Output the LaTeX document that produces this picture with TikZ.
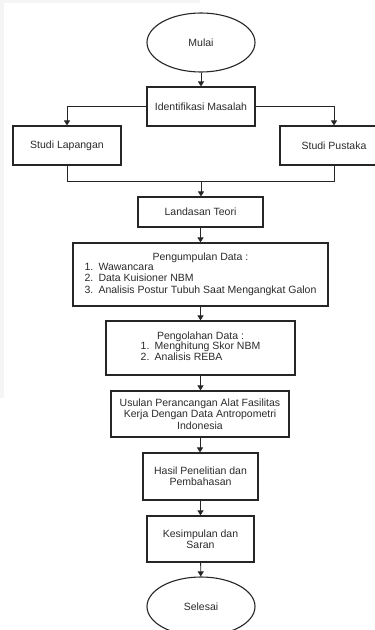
\documentclass[tikz,border=0pt]{standalone}
\usepackage{fontspec}
\setmainfont{Liberation Sans}
\usetikzlibrary{arrows.meta, shapes.geometric}
\definecolor{fcline}{HTML}{262626}
\definecolor{fctext}{HTML}{2B2B2B}
\definecolor{fcshade}{HTML}{F5F5F5}
\newcommand{\itm}[1]{\makebox[14pt][l]{#1.}}

\begin{document}
\begin{tikzpicture}[
  x=1pt, y=-1pt,
  every node/.style={font=\fontsize{10.5}{11.4}\selectfont, text=fctext},
  proc/.style={rectangle, draw=fcline, line width=1.1pt, fill=white, inner sep=0pt, align=center},
  term/.style={ellipse, draw=fcline, line width=1.1pt, fill=white, inner sep=0pt, minimum width=108, minimum height=59},
  flow/.style={-{Triangle[length=5pt, width=6pt]}, fcline, line width=0.9pt},
]
\useasboundingbox (0,0) rectangle (375,630);
\clip (0,0) rectangle (375,630);

% faint backdrop edge
\fill[fcshade] (0,0) rectangle (200,3);
\fill[fcshade] (0,0) rectangle (4,398);

% Terminals
\node[term] (mulai) at (201,42.5) {Mulai};
\node[term] (selesai) at (201,606.5) {Selesai};

% Steps
\node[proc, minimum width=108, minimum height=39] (identifikasi) at (201,106.5) {Identifikasi Masalah};
\node[proc, minimum width=108, minimum height=39] (lapangan) at (67,145.5) {Studi Lapangan};
\node[proc, minimum width=108, minimum height=39] (pustaka) at (334,145.5) {Studi Pustaka};
\node[proc, minimum width=125, minimum height=30] (landasan) at (200.5,212) {Landasan Teori};
\node[proc, minimum width=255, minimum height=63] (pengumpulan) at (200.5,274.5) {Pengumpulan Data :\\[-1pt]
  \begin{tabular}{@{}l@{}}
  \itm{1}Wawancara\\
  \itm{2}Data Kuisioner NBM\\
  \itm{3}Analisis Postur Tubuh Saat Mengangkat Galon
  \end{tabular}};
\node[proc, minimum width=189, minimum height=54] (pengolahan) at (200.5,348) {Pengolahan Data :\\[-1pt]
  \begin{tabular}{@{}l@{}}
  \itm{1}Menghitung Skor NBM\\
  \itm{2}Analisis REBA
  \end{tabular}};
\node[proc, minimum width=178, minimum height=46] (usulan) at (200,414) {Usulan Perancangan Alat Fasilitas\\Kerja Dengan Data Antropometri\\Indonesia};
\node[proc, minimum width=115, minimum height=47] (hasil) at (200.5,476.5) {Hasil Penelitian dan\\Pembahasan};
\node[proc, minimum width=107, minimum height=46] (kesimpulan) at (200.5,539) {Kesimpulan dan\\Saran};

% Connectors
\coordinate (gabung) at (201,181);
\draw[flow] (mulai) -- (identifikasi);
\draw[flow] (identifikasi.west) -| (lapangan.north);
\draw[flow] (identifikasi.east) -| (pustaka.north);
\draw[fcline, line width=0.9pt] (lapangan.south) |- (gabung);
\draw[fcline, line width=0.9pt] (pustaka.south) |- (gabung);
\draw[flow] (gabung) -- (landasan.north -| gabung);
\draw[flow] (landasan) -- (landasan |- pengumpulan.north);
\draw[flow] (pengumpulan) -- (pengumpulan |- pengolahan.north);
\draw[flow] (pengolahan) -- (pengolahan |- usulan.north);
\draw[flow] (usulan) -- (usulan |- hasil.north);
\draw[flow] (hasil) -- (kesimpulan);
\draw[flow] (kesimpulan) -- (selesai);

\end{tikzpicture}
\end{document}
